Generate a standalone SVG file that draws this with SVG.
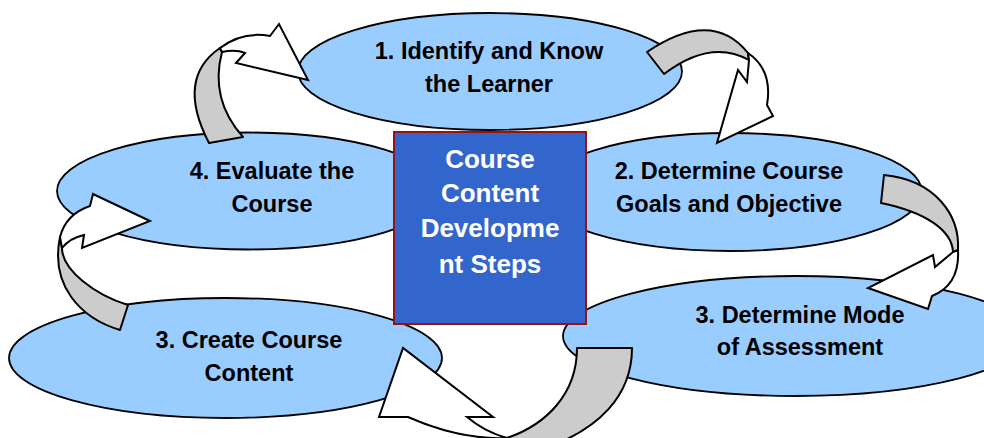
<svg xmlns="http://www.w3.org/2000/svg" width="984" height="438" viewBox="0 0 984 438">
<style>
.ell{fill:#99CCFF;stroke:#000;stroke-width:1.8}
.lbl{font-family:"Liberation Sans",Arial,sans-serif;font-weight:bold;font-size:23.5px;fill:#000;text-anchor:middle}
.ctr{font-family:"Liberation Sans",Arial,sans-serif;font-weight:bold;font-size:26px;fill:#fff;text-anchor:middle}
.band{fill:#CCCCCC;stroke:#000;stroke-width:2;stroke-linejoin:round}
.head{fill:#fff;stroke:#000;stroke-width:2;stroke-linejoin:miter}
</style>
<rect width="984" height="438" fill="#fff"/>
<g id="node-identify"><ellipse class="ell" cx="490" cy="71.5" rx="192" ry="58.5"/>
<text class="lbl" x="489" y="59">1. Identify and Know</text><text class="lbl" x="489" y="92">the Learner</text></g>
<g id="node-goals"><ellipse class="ell" cx="730" cy="192" rx="192" ry="59"/>
<text class="lbl" x="729" y="179">2. Determine Course</text><text class="lbl" x="729" y="212">Goals and Objective</text></g>
<g id="node-assessment"><ellipse class="ell" cx="795" cy="336" rx="232" ry="60"/>
<text class="lbl" x="800" y="323">3. Determine Mode</text><text class="lbl" x="800" y="355">of Assessment</text></g>
<g id="node-evaluate"><ellipse class="ell" cx="249" cy="191" rx="192" ry="58.5"/>
<text class="lbl" x="272" y="179">4. Evaluate the</text><text class="lbl" x="272" y="212">Course</text></g>
<g id="node-create"><ellipse class="ell" cx="225.5" cy="358" rx="216.5" ry="60"/>
<text class="lbl" x="249" y="348">3. Create Course</text><text class="lbl" x="249" y="381">Content</text></g>
<g id="connectors">
<path class="band" d="M209,143 L243,137 Q209.5,99.5 222,52 L220,48 Q175.5,78.5 209,143 Z"/>
<path class="head" d="M222,52 Q236,49 245,53 L236,63 L308,80 L279,24 L270,36 Q242,31 220,48 Z"/>
<path class="band" d="M647,52 Q712,8 748,53 L749,60 Q710.5,38.5 664,74 Z"/>
<path class="head" d="M748,53 Q773,70 767,105 L773,116 L717,143 L738,70 L747,82 L749,60 Z"/>
<path class="band" d="M884,175 C935,180 960,215 958,250 L953,252 C952,230 925,212 881,203 Z"/>
<path class="head" d="M958,250 Q960,285 932,296 L928,309 L868,288 L933,255 L935,267 L953,252 Z"/>
<path class="band" d="M507,438 C545,425 577,395 577,348 L632,348 C632,395 600,430 540,450 L507,450 Z"/>
<path class="head" d="M507,438 Q460,440 408,417 L379,417 L403,348 L493,417 L467,417 Q485,432 507,438 Z"/>
<path class="band" d="M128,305 L120,330 C80,318 50,285 60,237 L62,248 C62,270 95,295 128,305 Z"/>
<path class="head" d="M60,237 Q66,214 90,206 L93,194 L150,221 L82,248 L84,235 Q70,238 62,248 Z"/>
</g>
<g id="node-center"><rect x="394" y="132" width="192" height="192" fill="#3366CC" stroke="#991111" stroke-width="2"/>
<text class="ctr" x="490" y="168">Course</text><text class="ctr" x="490" y="202">Content</text><text class="ctr" x="490" y="237">Developme</text><text class="ctr" x="490" y="273">nt Steps</text></g>
</svg>
